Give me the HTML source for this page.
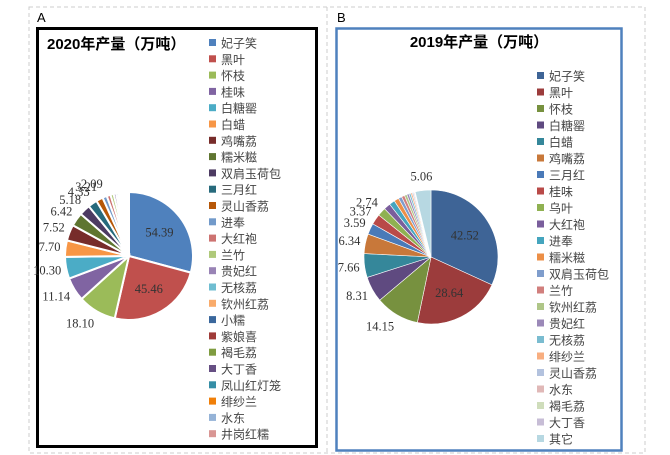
<!DOCTYPE html>
<html><head><meta charset="utf-8">
<style>
body{margin:0;background:#fff;}
svg{display:block;font-family:"Liberation Sans","Noto Sans CJK SC",sans-serif;}
.lbl{font-family:"Liberation Serif","Noto Serif CJK SC",serif;font-size:12.5px;fill:#333;}
.leg{font-size:12px;fill:#444;}
</style></head>
<body>
<svg id="chart" width="670" height="455" viewBox="0 0 670 455">
  <rect x="29" y="7" width="616" height="446" fill="none" stroke="#ccc" stroke-dasharray="4,3"/>
  <line x1="327" y1="7" x2="327" y2="453" stroke="#ccc" stroke-dasharray="4,3"/>
  <text x="37" y="22" font-size="13" fill="#000">A</text>
  <text x="337" y="22" font-size="13" fill="#000">B</text>
  <rect x="37.5" y="28.5" width="279" height="418" fill="none" stroke="#000" stroke-width="3"/>
  <rect x="336.5" y="28.5" width="285" height="422" fill="none" stroke="#4F81BD" stroke-width="2.5"/>
  <text x="47" y="49" font-size="15" font-weight="bold" fill="#000">2020年产量（万吨）</text>
  <text x="479" y="47" font-size="15" font-weight="bold" fill="#000" text-anchor="middle">2019年产量（万吨）</text>
  <g id="pieA"></g>
  <g id="pieB"></g>
  <g id="legA"></g>
  <g id="legB"></g>
</svg>
<script>
const catsA = ["妃子笑","黑叶","怀枝","桂味","白糖罂","白蜡","鸡嘴荔","糯米糍","双肩玉荷包","三月红","灵山香荔","进奉","大红袍","兰竹","贵妃红","无核荔","钦州红荔","小糯","紫娘喜","褐毛荔","大丁香","凤山红灯笼","绯纱兰","水东","井岗红糯"];
const valsA = [54.39,45.46,18.10,11.14,10.30,7.70,7.52,6.42,5.18,4.33,3.21,2.09,1.80,1.50,1.20,1.00,0.90,0.80,0.70,0.60,0.75,0.40,0.35,0.20,0.32];
const colsA = ["#4F81BD","#C0504D","#9BBB59","#8064A2","#4BACC6","#F79646","#772C2A","#5F7530","#4D3B62","#276A7C","#B65708","#729ACA","#CD7371","#AFC97A","#9983B5","#6FBDD1","#F9AB6B","#3A679C","#9F3B38","#7F9C40","#664F83","#358EA6","#F07F09","#95B3D7","#D99694"];
const catsB = ["妃子笑","黑叶","怀枝","白糖罂","白蜡","鸡嘴荔","三月红","桂味","乌叶","大红袍","进奉","糯米糍","双肩玉荷包","兰竹","钦州红荔","贵妃红","无核荔","绯纱兰","灵山香荔","水东","褐毛荔","大丁香","其它"];
const valsB = [42.52,28.64,14.15,8.31,7.66,6.34,3.59,3.37,2.74,2.15,1.83,1.54,1.10,1.00,0.80,0.70,0.60,0.50,0.40,0.30,0.20,0.10,5.06];
const colsB = ["#3E6496","#9C3C3C","#77913F","#5F4A80","#35879A","#C8783A","#4A7AB8","#B94A48","#8FB151","#7A5E9C","#45A5BE","#EC8F47","#7F9DCC","#D17F7D","#AFC688","#9B89B8","#7ABCD0","#F8AE80","#B3C2DE","#E0B8B7","#CFDDBB","#C7BDD6","#B7D8E2"];
const NS="http://www.w3.org/2000/svg";
function mk(t,a,p){const e=document.createElementNS(NS,t);for(const k in a)e.setAttribute(k,a[k]);p.appendChild(e);return e;}
function pie(gid,vals,cols,cx,cy,r,gap,inside,minLbl){
  const g=document.getElementById(gid);
  const tot=vals.reduce((a,b)=>a+b,0);
  let a0=-Math.PI/2;
  vals.forEach((v,i)=>{
    const a1=a0+v/tot*2*Math.PI, am=(a0+a1)/2;
    const x0=cx+r*Math.cos(a0),y0=cy+r*Math.sin(a0),x1=cx+r*Math.cos(a1),y1=cy+r*Math.sin(a1);
    const large=(a1-a0)>Math.PI?1:0;
    const p=mk("path",{d:`M${cx},${cy}L${x0},${y0}A${r},${r} 0 ${large} 1 ${x1},${y1}Z`,fill:cols[i],stroke:"#fff","stroke-width":gap},g);
    
    
    if(v>=minLbl){
      let lx,ly,anc;
      if(i<inside){lx=cx+r*0.6*Math.cos(am);ly=cy+r*0.6*Math.sin(am)+4;anc="middle";}
      else{const c=Math.cos(am);const rr=r+(c<-0.3?5:14);lx=cx+rr*c;ly=cy+(r+14)*Math.sin(am)+4;anc=c>0.3?"start":(c<-0.3?"end":"middle");}
      const t=mk("text",{x:lx,y:ly,"text-anchor":anc,class:"lbl"},g);
      t.textContent=v.toFixed(2);
      
      
    }
    a0=a1;
  });
}
function legend(gid,cats,cols,x,y0,dy){
  const g=document.getElementById(gid);
  cats.forEach((c,i)=>{
    const y=y0+i*dy;
    const r=mk("rect",{x:x,y:y-4,width:7,height:7,fill:cols[i]},g);
    
    
    const t=mk("text",{x:x+12,y:y+4.5,class:"leg"},g);
    t.textContent=c;
    
    
  });
}
pie("pieA",valsA,colsA,129,256,64,2,2,2);
pie("pieB",valsB,colsB,431,257,67,0.6,2,2.5);
legend("legA",catsA,colsA,209,43,16.3);
legend("legB",catsB,colsB,537,76,16.5);
</script>
</body></html>
